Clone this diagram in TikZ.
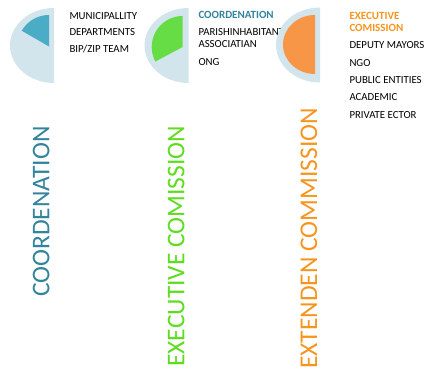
\documentclass[tikz,border=0pt]{standalone}
\usepackage{fontspec}
\setmainfont{Carlito}
\usetikzlibrary{positioning}

\definecolor{ringblue}{HTML}{D3E5EC}
\definecolor{tealpie}{HTML}{4BACC6}
\definecolor{tealtext}{HTML}{31849B}
\definecolor{greenpie}{HTML}{66DD44}
\definecolor{greentext}{HTML}{5EDC1E}
\definecolor{orangepie}{HTML}{F79646}
\definecolor{orangetext}{HTML}{F7941D}

\begin{document}
\begin{tikzpicture}[x=1pt,y=1pt,
		ring/.style={fill=ringblue},
		item/.style={anchor=base west,inner sep=0pt,font=\fontsize{10.8}{13}\selectfont},
		head/.style={item,font=\fontsize{11}{13}\selectfont\bfseries},
		title/.style={anchor=base west,inner sep=0pt,rotate=90,font=\fontsize{25.5}{30}\selectfont}]

		\useasboundingbox (0,0) rectangle (431,-374);

		% coordenation
		\fill[ring] (54,-8) arc[start angle=90,end angle=270,x radius=44,y radius=37.5] -- cycle;
		\fill[tealpie] (49,-46.5) -- ++(90:31.5) arc[start angle=90,end angle=150,radius=31.5] -- cycle;
		\node[item] (mun) at (69.3,-19.5) {MUNICIPALLITY};
		\node[item] (dep) at (69.3,-36) {DEPARTMENTS};
		\node[item] (bip) at (69.3,-53) {BIP/ZIP TEAM};

		% executive comission
		\fill[ring] (188.5,-8) arc[start angle=90,end angle=270,x radius=44,y radius=37.5] -- cycle;
		\fill[greenpie] (182.7,-47) -- ++(90:31) arc[start angle=90,end angle=208,radius=31] -- cycle;
		\node[head,tealtext] (coo) at (198.3,-18.5) {COORDENATION};
		\node[item] (par) at (198.3,-36) {PARISHINHABITANTS};
		\node[item] (ass) at (198.3,-48) {ASSOCIATIAN};
		\node[item] (ong) at (198.3,-65.7) {ONG};

		% extenden commission
		\fill[ring] (320,-7.5) arc[start angle=90,end angle=270,x radius=44,y radius=37.5] -- cycle;
		\fill[orangepie] (315,-15) arc[start angle=90,end angle=270,x radius=32,y radius=29.5] -- cycle;
		\node[head,orangetext] (exe) at (349.3,-19.5) {EXECUTIVE};
		\node[head,orangetext] (com) at (349.3,-31.8) {COMISSION};
		\node[item] (dm) at (349.3,-49) {DEPUTY MAYORS};
		\node[item] (ngo) at (349.3,-66.7) {NGO};
		\node[item] (pe) at (349.3,-84) {PUBLIC ENTITIES};
		\node[item] (aca) at (349.3,-101) {ACADEMIC};
		\node[item] (pri) at (349.3,-118.3) {PRIVATE ECTOR};

		\node[title,tealtext] (t1) at (49.3,-297) {COORDENATION};
		\node[title,greentext] (t2) at (184.3,-367) {EXECUTIVE COMISSION};
		\node[title,orangetext] (t3) at (317,-369) {EXTENDEN COMMISSION};
\end{tikzpicture}
\end{document}
